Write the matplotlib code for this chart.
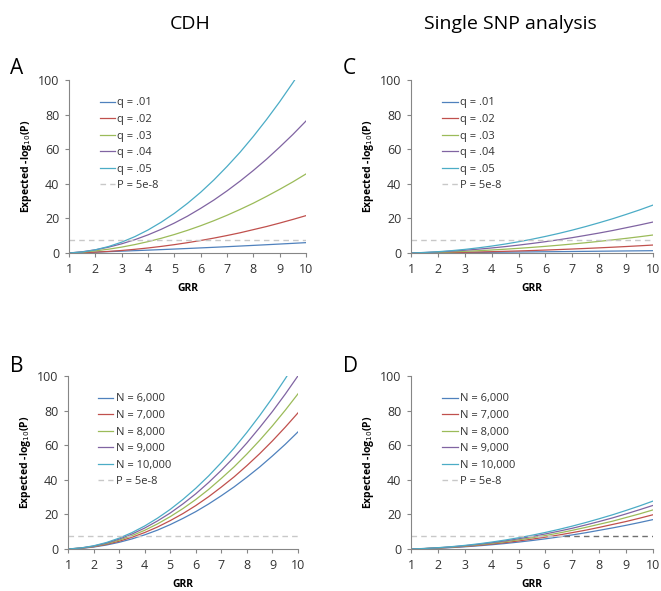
import matplotlib
matplotlib.use("Agg")
import matplotlib.pyplot as plt

plt.rcParams['font.family'] = ['Open Sans', 'DejaVu Sans']

GRR = [1, 1.5, 2, 2.5, 3, 3.5, 4, 4.5, 5, 5.5, 6, 6.5, 7, 7.5, 8, 8.5, 9, 9.5, 10]

# Panel A: CDH by q
A_q01 = [0, 0.25, 0.51, 0.78, 1.06, 1.35, 1.65, 1.96, 2.28, 2.61, 2.95, 3.29, 3.65, 4.02, 4.40, 4.78, 5.18, 5.58, 5.99]
A_q02 = [0, 0.19, 0.49, 0.92, 1.46, 2.13, 2.91, 3.81, 4.83, 5.97, 7.23, 8.61, 10.1, 11.7, 13.5, 15.3, 17.3, 19.4, 21.6]
A_q03 = [0, 0.49, 1.22, 2.20, 3.41, 4.87, 6.56, 8.50, 10.68, 13.10, 15.76, 18.66, 21.8, 25.2, 28.8, 32.7, 36.8, 41.1, 45.7]
A_q04 = [0, 0.71, 1.83, 3.37, 5.32, 7.69, 10.48, 13.68, 17.3, 21.3, 25.8, 30.6, 35.9, 41.6, 47.7, 54.2, 61.2, 68.5, 76.3]
A_q05 = [0, 0.60, 1.84, 3.73, 6.27, 9.46, 13.3, 17.8, 22.9, 28.7, 35.1, 42.2, 50.0, 58.3, 67.4, 77.1, 87.4, 98.4, 110.0]

# Panel C: single SNP by q
C_q01 = [0, 0.06, 0.13, 0.20, 0.27, 0.34, 0.42, 0.49, 0.57, 0.64, 0.72, 0.79, 0.87, 0.95, 1.03, 1.11, 1.19, 1.26, 1.34]
C_q02 = [0, 0.074, 0.17, 0.29, 0.42, 0.58, 0.76, 0.97, 1.19, 1.43, 1.70, 1.99, 2.30, 2.63, 2.98, 3.35, 3.74, 4.16, 4.60]
C_q03 = [0, 0.17, 0.39, 0.65, 0.96, 1.33, 1.73, 2.19, 2.70, 3.25, 3.85, 4.50, 5.20, 5.94, 6.73, 7.58, 8.46, 9.40, 10.4]
C_q04 = [0, 0.27, 0.63, 1.07, 1.60, 2.21, 2.91, 3.69, 4.56, 5.51, 6.55, 7.67, 8.88, 10.2, 11.55, 13.0, 14.6, 16.2, 17.9]
C_q05 = [0, 0.30, 0.75, 1.34, 2.08, 2.97, 4.0, 5.17, 6.50, 7.96, 9.58, 11.33, 13.24, 15.3, 17.5, 19.8, 22.3, 24.9, 27.7]

# Panel B: CDH by N
B_n6 = [0, 0.37, 1.13, 2.29, 3.86, 5.82, 8.18, 10.9, 14.1, 17.7, 21.6, 26.0, 30.8, 35.9, 41.5, 47.4, 53.8, 60.5, 67.7]
B_n7 = [0, 0.43, 1.32, 2.67, 4.48, 6.76, 9.51, 12.7, 16.4, 20.5, 25.1, 30.2, 35.8, 41.7, 48.2, 55.1, 62.5, 70.4, 78.7]
B_n8 = [0, 0.49, 1.50, 3.04, 5.11, 7.71, 10.8, 14.5, 18.7, 23.4, 28.6, 34.4, 40.8, 47.5, 54.9, 62.8, 71.2, 80.2, 89.7]
B_n9 = [0, 0.55, 1.67, 3.39, 5.71, 8.61, 12.1, 16.2, 20.8, 26.1, 31.9, 38.4, 45.5, 53.1, 61.3, 70.2, 79.5, 89.5, 100.1]
B_n10 = [0, 0.60, 1.84, 3.73, 6.27, 9.46, 13.3, 17.8, 22.9, 28.7, 35.1, 42.2, 50.0, 58.3, 67.4, 77.1, 87.4, 98.4, 110.0]

# Panel D: single SNP by N
D_n6 = [0, 0.18, 0.46, 0.82, 1.28, 1.83, 2.46, 3.18, 4.00, 4.90, 5.89, 6.97, 8.14, 9.41, 10.8, 12.2, 13.7, 15.3, 17.0]
D_n7 = [0, 0.21, 0.54, 0.96, 1.49, 2.12, 2.86, 3.70, 4.65, 5.69, 6.85, 8.10, 9.47, 10.9, 12.5, 14.2, 15.9, 17.8, 19.8]
D_n8 = [0, 0.24, 0.61, 1.09, 1.70, 2.42, 3.26, 4.21, 5.30, 6.49, 7.81, 9.23, 10.8, 12.5, 14.3, 16.1, 18.2, 20.3, 22.6]
D_n9 = [0, 0.27, 0.68, 1.22, 1.89, 2.70, 3.64, 4.70, 5.92, 7.24, 8.72, 10.3, 12.0, 13.9, 15.9, 18.0, 20.3, 22.7, 25.2]
D_n10 = [0, 0.30, 0.75, 1.34, 2.08, 2.97, 4.0, 5.17, 6.50, 7.96, 9.58, 11.33, 13.24, 15.3, 17.5, 19.8, 22.3, 24.9, 27.7]

q_labels = ["q = .01", "q = .02", "q = .03", "q = .04", "q = .05"]
n_labels = ["N = 6,000", "N = 7,000", "N = 8,000", "N = 9,000", "N = 10,000"]
threshold = 7.3  # -log10(5e-8)
threshold_label = "P = 5e-8"

colors = ["#4F81BD", "#C0504D", "#9BBB59", "#8064A2", "#4BACC6"]

fig = plt.figure(figsize=(6.61, 5.91), dpi=100)
W, H = 661, 591

def make_ax(x0, x1, y0, y1):
    return fig.add_axes([x0 / W, 1 - y1 / H, (x1 - x0) / W, (y1 - y0) / H])

axA = make_ax(69, 306, 80, 253)
axC = make_ax(411, 653, 80, 253)
axB = make_ax(68, 298, 376, 549)
axD = make_ax(411, 653, 376, 549)

panels = [
    (axA, [A_q01, A_q02, A_q03, A_q04, A_q05], q_labels, "A", False, (10, 69)),
    (axC, [C_q01, C_q02, C_q03, C_q04, C_q05], q_labels, "C", False, (343, 69)),
    (axB, [B_n6, B_n7, B_n8, B_n9, B_n10], n_labels, "B", False, (10, 367)),
    (axD, [D_n6, D_n7, D_n8, D_n9, D_n10], n_labels, "D", True, (343, 367)),
]

for ax, series, labels, letter, split, lpos in panels:
    handles = []
    for s, lab, c in zip(series, labels, colors):
        h, = ax.plot(GRR, s, color=c, lw=0.9, label=lab)
        handles.append(h)
    if split:
        hd, = ax.plot([1, 6.7], [threshold, threshold], color="#C8C8C8", lw=1.0,
                      ls=(0, (4, 3)), label=threshold_label)
        ax.plot([6.7, 10], [threshold, threshold], color="#707070", lw=1.0, ls=(0, (4, 3)))
    else:
        hd, = ax.plot([1, 10], [threshold, threshold], color="#C8C8C8", lw=1.0,
                      ls=(0, (4, 3)), label=threshold_label)
    handles.append(hd)
    ax.set_xlim(1, 10)
    ax.set_ylim(0, 100)
    ax.set_xticks(range(1, 11))
    ax.set_yticks(range(0, 101, 20))
    for sp in ["top", "right"]:
        ax.spines[sp].set_visible(False)
    for sp in ["left", "bottom"]:
        ax.spines[sp].set_color("#868686")
        ax.spines[sp].set_linewidth(0.8)
    ax.tick_params(axis="both", colors="#868686", labelcolor="#333333", labelsize=9,
                   length=3, width=0.8, direction="out", pad=4)
    ax.set_ylabel("Expected -log$_{10}$(P)", fontsize=7.5, fontweight="bold", labelpad=3)
    ax.set_xlabel("GRR", fontsize=7.5, fontweight="bold", labelpad=5)
    leg = ax.legend(handles=handles, loc="upper left", bbox_to_anchor=(0.11, 0.925),
                    frameon=False, fontsize=8, handlelength=1.4, handletextpad=0.2,
                    labelspacing=0.5, borderaxespad=0)
    for t in leg.get_texts():
        t.set_color("#333333")
    fig.text(lpos[0] / W, 1 - lpos[1] / H, letter, fontsize=15, ha="left", va="center")

fig.text(190 / W, 1 - 24 / H, "CDH", fontsize=14, ha="center", va="center")
fig.text(510 / W, 1 - 24 / H, "Single SNP analysis", fontsize=14, ha="center", va="center")

fig.savefig("out.png", dpi=100)
